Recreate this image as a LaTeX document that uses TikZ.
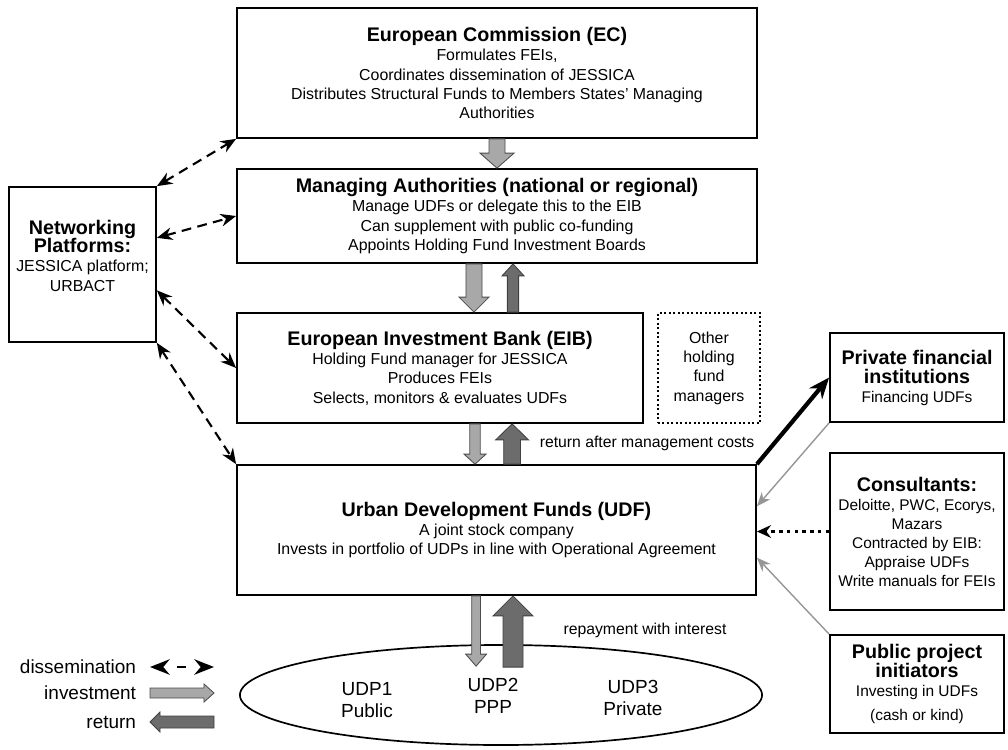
\documentclass[tikz,border=0pt]{standalone}
\usepackage{fontspec}
\setmainfont{Liberation Sans}
\usetikzlibrary{arrows.meta,calc,shapes.geometric}

\definecolor{investgray}{RGB}{168,168,168}
\definecolor{returngray}{RGB}{108,108,108}
\definecolor{linkgray}{RGB}{150,150,150}

\newcommand{\ttl}[1]{{\fontsize{14}{16}\selectfont\bfseries #1}}

% vertical block arrow: style, from, to, half shaft, half head, head length
\newcommand{\vblock}[6]{%
  \filldraw[#1] let \p1=(#2), \p2=(#3) in
    (\x1-#4,\y1) -- (\x1-#4,\y2+#6) -- (\x1-#5,\y2+#6) -- (\x1,\y2)
    -- (\x1+#5,\y2+#6) -- (\x1+#4,\y2+#6) -- (\x1+#4,\y1) -- cycle;}
% horizontal block arrow
\newcommand{\hblock}[6]{%
  \filldraw[#1] let \p1=(#2), \p2=(#3) in
    (\x1,\y1-#4) -- (\x2+#6,\y1-#4) -- (\x2+#6,\y1-#5) -- (\x2,\y1)
    -- (\x2+#6,\y1+#5) -- (\x2+#6,\y1+#4) -- (\x1,\y1+#4) -- cycle;}

\tikzset{
  box/.style={draw, line width=1.2pt, align=center, inner sep=2pt,
    font=\fontsize{11.3}{13.7}\selectfont},
  sidebox/.style={box, minimum width=4.35cm, font=\fontsize{11}{13.5}\selectfont},
  invest/.style={fill=investgray, draw=black!70, line width=0.6pt},
  ret/.style={fill=returngray, draw=black!75, line width=0.6pt},
  dissem/.style={line width=1.5pt, dash pattern=on 7pt off 4.5pt,
    {Stealth[length=11pt,width=9pt]}-{Stealth[length=11pt,width=9pt]}},
  lbl/.style={font=\fontsize{11.2}{13}\selectfont},
  big/.style={font=\fontsize{13.5}{16}\selectfont},
}

\begin{document}
\begin{tikzpicture}[x=0.025cm, y=-0.025cm]
  \useasboundingbox (0,0) rectangle (1008,750);

  % main chain
  \node[box, minimum width=13cm, minimum height=3.25cm] (ec) at (497,73)
    {\ttl{European Commission (EC)}\\ Formulates FEIs,\\
     Coordinates dissemination of JESSICA\\
     Distributes Structural Funds to Members States' Managing\\ Authorities};
  \node[box, minimum width=13cm, minimum height=2.35cm] (ma) at (497,216)
    {\ttl{Managing Authorities (national or regional)}\\
     Manage UDFs or delegate this to the EIB\\
     Can supplement with public co-funding\\
     Appoints Holding Fund Investment Boards};
  \node[box, minimum width=10.15cm, minimum height=2.75cm] (eib) at (440,368)
    {\ttl{European Investment Bank (EIB)}\\
     Holding Fund manager for JESSICA\\ Produces FEIs\\
     Selects, monitors \& evaluates UDFs};
  \node[box, dotted, line width=1.4pt, minimum width=2.55cm, minimum height=2.75cm] (other) at (709,368)
    {Other\\ holding\\ fund\\ managers};
  \node[box, minimum width=12.975cm, minimum height=3.25cm] (udf) at (496.5,530)
    {\ttl{Urban Development Funds (UDF)}\\ A joint stock company\\
     Invests in portfolio of UDPs in line with Operational Agreement};
  \node[draw, ellipse, line width=1.2pt, minimum width=13.05cm, minimum height=2.5cm] (udp) at (501,695) {};
  \node[align=center, big] (udp1) at (367,700) {UDP1\\ Public};
  \node[align=center, big] (udp2) at (493,696) {UDP2\\ PPP};
  \node[align=center, big] (udp3) at (633,698) {UDP3\\ Private};

  % side boxes
  \node[box, minimum width=3.675cm, minimum height=3.875cm] (net) at (82.5,264.5)
    {\ttl{Networking}\\[-1pt] \ttl{Platforms:}\\ JESSICA platform;\\ URBACT\\[-1.5pt]\mbox{}};
  \node[sidebox, minimum height=2.225cm] (pfi) at (917,377.5)
    {\ttl{Private financial}\\ \ttl{institutions}\\ Financing UDFs};
  \node[sidebox, minimum height=3.925cm] (cons) at (917,531.5)
    {\ttl{Consultants:}\\ Deloitte, PWC, Ecorys,\\ Mazars\\ Contracted by EIB:\\
     Appraise UDFs\\ Write manuals for FEIs};
  \node[sidebox, minimum height=2.45cm] (ppi) at (917,684)
    {\ttl{Public project}\\ \ttl{initiators}\\ Investing in UDFs\\[3pt] (cash or kind)};

  % flows down and back
  \vblock{invest}{ec.south}{ma.north}{0.2cm}{0.425cm}{0.375cm}
  \vblock{invest}{$(ma.south)+(-0.575cm,0)$}{eib.north}{0.2cm}{0.375cm}{0.375cm}
  \vblock{ret}{$(eib.north)+(1.825cm,0)$}{ma.south}{0.14cm}{0.275cm}{-0.3cm}
  \vblock{invest}{$(eib.south)+(0.875cm,0)$}{udf.north}{0.13cm}{0.275cm}{0.25cm}
  \vblock{ret}{$(udf.north)+(0.39cm,0)$}{eib.south}{0.21cm}{0.41cm}{-0.4cm}
  \vblock{invest}{$(udf.south)+(-0.51cm,0)$}{$(udp.north)+(0,-0.55cm)$}{0.11cm}{0.26cm}{0.3cm}
  \vblock{ret}{$(udp.north)+(0.3cm,-0.575cm)$}{udf.south}{0.25cm}{0.5cm}{-0.5cm}

  \node[lbl] (retlbl) at (647,443) {return after management costs};
  \node[lbl] (replbl) at (645,630) {repayment with interest};

  % dissemination
  \draw[dissem] (net.north east) -- (ec.south west);
  \draw[dissem] ($(net.north east)!0.33!(net.south east)$) -- (ma.west);
  \draw[dissem] ($(net.north east)!0.665!(net.south east)$) -- (eib.west);
  \draw[dissem] (net.south east) -- (udf.north west);

  % outside actors
  \draw[line width=3pt, -{Stealth[length=15pt,width=12pt]}] (udf.north east) -- (pfi.west);
  \draw[linkgray, line width=1pt, -{Stealth[length=10pt,width=8pt]}] (pfi.south west) -- ($(udf.north east)!0.32!(udf.south east)$);
  \draw[line width=2.5pt, dash pattern=on 2.5pt off 3pt, -{Stealth[length=10pt,width=9pt]}] (cons.west) -- (cons.west -| udf.east);
  \draw[linkgray, line width=1pt, -{Stealth[length=10pt,width=8pt]}] (ppi.north west) -- ($(udf.north east)!0.71!(udf.south east)$);

  % legend
  \node[anchor=east, big] (ldis) at (141,667) {dissemination};
  \node[anchor=east, big] (linv) at (141,693) {investment};
  \node[anchor=east, big] (lret) at (141,722) {return};
  \coordinate (ldisA) at (150,667); \coordinate (ldisB) at (214,667);
  \coordinate (linvA) at (150,693); \coordinate (linvB) at (214,693);
  \coordinate (lretA) at (214,722); \coordinate (lretB) at (150,722);
  \draw[line width=1.5pt, dash pattern=on 0pt off 10pt on 7pt off 30pt,
    {Stealth[length=14pt,width=11pt]}-{Stealth[length=14pt,width=11pt]}] (ldisA) -- (ldisB);
  \hblock{invest}{linvA}{linvB}{0.125cm}{0.225cm}{-0.25cm}
  \hblock{ret}{lretA}{lretB}{0.15cm}{0.25cm}{0.25cm}
\end{tikzpicture}
\end{document}
